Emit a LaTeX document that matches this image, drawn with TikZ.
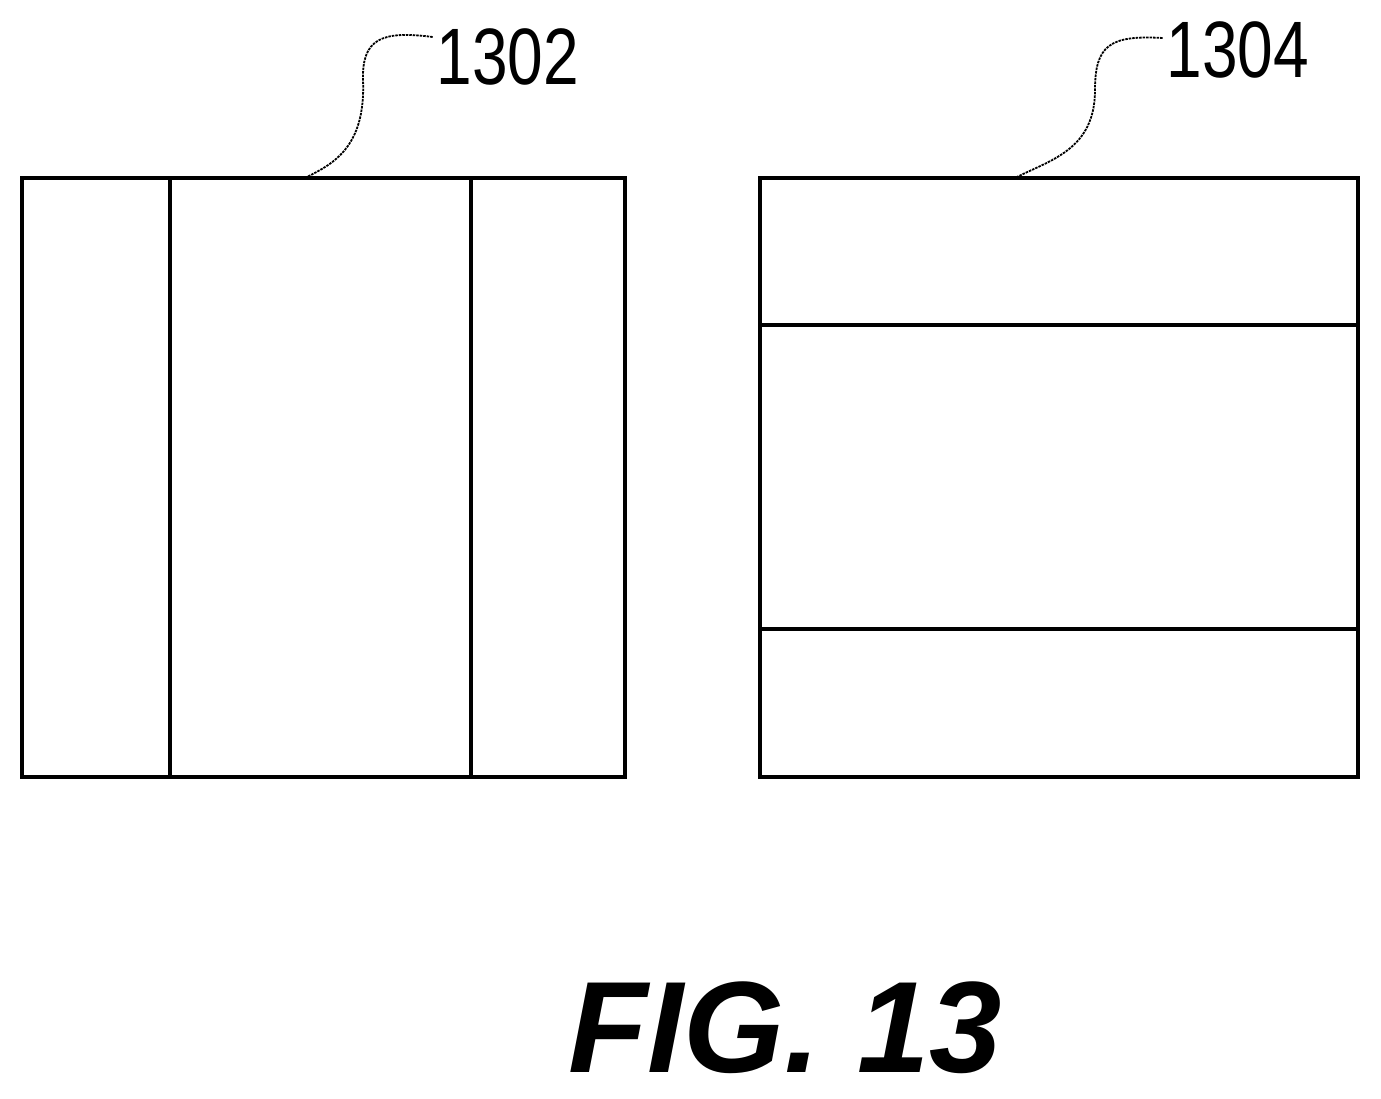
\documentclass[tikz,border=0pt]{standalone}
\usepackage{fontspec}
\setmainfont{Liberation Sans}
\begin{document}
\begin{tikzpicture}[x=1pt,y=-1pt,
  box/.style={draw,line width=3.5pt,inner sep=0pt,minimum width=#1},
  lead/.style={line width=1.8pt,dash pattern=on 2.5pt off 1pt},
  lbl/.style={font=\fontsize{80}{80}\selectfont,inner sep=0pt,xscale=0.8}]
\useasboundingbox (0,0) rectangle (1381,1098);
\node[box=603pt,minimum height=599pt] (L) at (323.5,477.5) {};
\node[box=598pt,minimum height=599pt] (R) at (1059,477.5) {};
\draw[line width=3.5pt] (170,178) -- (170,777) (471,178) -- (471,777);
\draw[line width=3.5pt] (760,325) -- (1358,325) (760,629) -- (1358,629);
\node[lbl] (t1) at (508,57) {1302};
\node[lbl] (t2) at (1238,50) {1304};
\coordinate (a1) at (305,178);
\coordinate (a2) at (1015,178);
\draw[lead] (t1.west) ++(-4,-20) .. controls (380,30) and (362,40) .. (363,80) .. controls (366,150) and (330,165) .. (a1);
\draw[lead] (t2.west) ++(-4,-12) .. controls (1110,35) and (1095,45) .. (1095,90) .. controls (1095,150) and (1050,160) .. (a2);
\node[font=\fontsize{130}{130}\selectfont\bfseries\itshape,inner sep=0pt] (fig) at (785,1028) {FIG. 13};
\end{tikzpicture}
\end{document}
